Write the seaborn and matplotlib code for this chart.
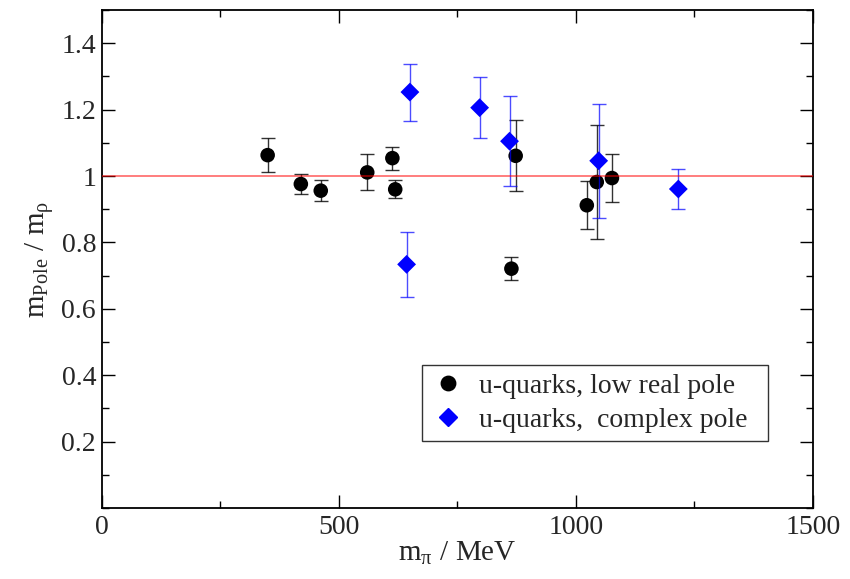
import numpy as np
import pandas as pd
import matplotlib
matplotlib.use("Agg")
import matplotlib.pyplot as plt
import seaborn as sns
from matplotlib.lines import Line2D
from matplotlib.ticker import MultipleLocator

# ---- data ----
real_x = [350, 420, 462, 560, 613, 619, 873, 864, 1023, 1044, 1076]
real_y = [1.063, 0.976, 0.956, 1.011, 1.054, 0.960, 1.061, 0.721, 0.912, 0.982, 0.994]
real_err = [0.051, 0.029, 0.031, 0.054, 0.035, 0.027, 0.107, 0.034, 0.072, 0.171, 0.073]

cplx_x = [650, 643, 797, 860, 1048, 1216]
cplx_y = [1.253, 0.734, 1.206, 1.105, 1.046, 0.961]
cplx_err = [0.086, 0.097, 0.092, 0.135, 0.172, 0.060]

label_real = "u-quarks, low real pole"
label_cplx = "u-quarks,  complex pole"

df = pd.DataFrame({
    "x": real_x + cplx_x,
    "y": real_y + cplx_y,
    "series": [label_real] * len(real_x) + [label_cplx] * len(cplx_x),
})

sns.set_style("ticks")
plt.rcParams["font.family"] = ["Liberation Serif", "DejaVu Serif"]
plt.rcParams["mathtext.fontset"] = "custom"
plt.rcParams["mathtext.rm"] = "Liberation Serif"
plt.rcParams["mathtext.it"] = "Liberation Serif"

fig = plt.figure(figsize=(8.5, 5.79), dpi=100)
ax = fig.add_axes([0.1196, 0.1226, 0.8369, 0.860])

ax.errorbar(real_x, real_y, yerr=real_err, fmt="none", ecolor="black",
            elinewidth=1.0, capsize=4.8, capthick=1.0, alpha=0.8, zorder=2)
sns.scatterplot(data=df[df.series == label_real], x="x", y="y", color="black",
                marker="o", s=110, edgecolor="none", ax=ax, zorder=3, legend=False)
ax.errorbar(cplx_x, cplx_y, yerr=cplx_err, fmt="none", ecolor="blue",
            elinewidth=1.0, capsize=4.8, capthick=1.0, alpha=0.7, zorder=4)
sns.scatterplot(data=df[df.series == label_cplx], x="x", y="y", color="blue",
                marker="D", s=92, edgecolor="none", ax=ax, zorder=5, legend=False)

ax.axhline(1.0, color="red", lw=1.3, alpha=0.55, zorder=6)

ax.set_xlim(0, 1500)
ax.set_ylim(0, 1.5)
ax.xaxis.set_minor_locator(MultipleLocator(250))
ax.yaxis.set_minor_locator(MultipleLocator(0.1))
ax.set_yticks([0.2, 0.4, 0.6, 0.8, 1.0, 1.2, 1.4])
ax.set_yticklabels(["0.2", "0.4", "0.6", "0.8", "1", "1.2", "1.4"])
ax.set_xticks([0, 500, 1000, 1500])
ax.set_xticklabels(["0", "500", "1000", "1500"])

ax.tick_params(which="both", direction="in", top=True, right=True, color="black")
ax.tick_params(which="major", length=9.5, width=1.0, labelsize=20)
ax.tick_params(axis="x", which="major", pad=5)
ax.tick_params(axis="y", which="major", pad=4)
ax.tick_params(which="minor", length=5, width=1.0)
for s in ax.spines.values():
    s.set_color("black")
    s.set_linewidth(1.3)

ax.set_xlabel(r"$\mathregular{m_{\pi}\ /\ MeV}$", fontsize=21, labelpad=0)
ax.set_ylabel(r"$\mathregular{m_{Pole}\ /\ m_{\rho}}$", fontsize=21, labelpad=4)

handles = [
    Line2D([], [], marker="o", color="black", ls="none", markersize=10.4),
    Line2D([], [], marker="D", color="blue", ls="none", markersize=9.0),
]
leg = ax.legend(handles, [label_real, label_cplx], loc="lower left",
                bbox_to_anchor=(0.450, 0.1345, 0.487, 0.1495), mode="expand",
                fontsize=20, frameon=True, fancybox=False, borderaxespad=0,
                handletextpad=0.45, borderpad=0.3, labelspacing=0.3,
                handlelength=1.3, handleheight=0.7)
leg.get_frame().set_edgecolor("black")
leg.get_frame().set_linewidth(1.0)

fig.savefig("out.png", dpi=100)
